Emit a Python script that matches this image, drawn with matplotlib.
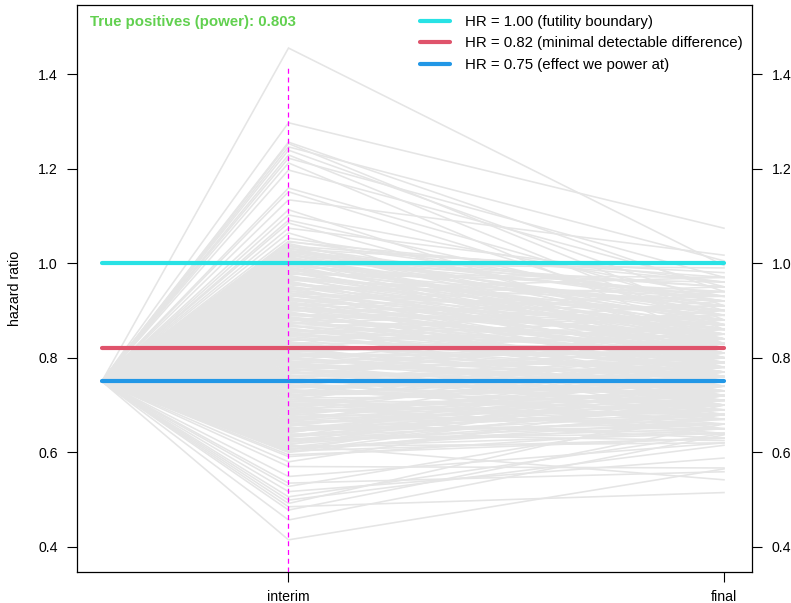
#!/usr/bin/env python
# coding: utf-8

    #========= IMPORTS ===================================================#

import matplotlib
matplotlib.use("Agg")
import matplotlib.pyplot as plt

    #========= DATA ======================================================#

START_HR = 0.75
INFO_FRACTIONS = [0.0, 0.3, 1.0]
TICK_LABELS = ["interim", "final"]

# hazard ratio at interim and at final analysis, one entry per simulated trial
INTERIM = [
    1.455, 1.297, 1.256, 1.253, 1.246, 1.239, 1.229, 1.222, 1.212, 1.197,
    1.159, 1.151, 1.134, 1.113, 1.102, 1.091, 1.085, 1.074, 1.064, 1.053,
    0.415, 0.457, 0.478, 0.485, 0.492, 0.499, 0.506, 0.517, 0.528, 0.535,
    0.549, 0.570, 0.591, 0.580, 0.595,
    0.600, 0.603, 0.605, 0.608, 0.611, 0.613, 0.616, 0.618, 0.621, 0.624,
    0.626, 0.629, 0.632, 0.634, 0.637, 0.639, 0.642, 0.645, 0.647, 0.650,
    0.652, 0.655, 0.658, 0.660, 0.663, 0.665, 0.668, 0.671, 0.673, 0.676,
    0.678, 0.681, 0.684, 0.686, 0.689, 0.691, 0.694, 0.697, 0.699, 0.702,
    0.704, 0.707, 0.710, 0.712, 0.715, 0.717, 0.720, 0.723, 0.725, 0.728,
    0.730, 0.733, 0.736, 0.738, 0.741, 0.743, 0.746, 0.749, 0.751, 0.754,
    0.756, 0.759, 0.762, 0.764, 0.767, 0.769, 0.772, 0.775, 0.777, 0.780,
    0.782, 0.785, 0.788, 0.790, 0.793, 0.795, 0.798, 0.801, 0.803, 0.806,
    0.808, 0.811, 0.814, 0.816, 0.819, 0.821, 0.824, 0.827, 0.829, 0.832,
    0.834, 0.837, 0.840, 0.842, 0.845, 0.847, 0.850, 0.853, 0.855, 0.858,
    0.860, 0.863, 0.866, 0.868, 0.871, 0.873, 0.876, 0.879, 0.881, 0.884,
    0.886, 0.889, 0.892, 0.894, 0.897, 0.899, 0.902, 0.905, 0.907, 0.910,
    0.912, 0.915, 0.918, 0.920, 0.923, 0.925, 0.928, 0.931, 0.933, 0.936,
    0.938, 0.941, 0.944, 0.946, 0.949, 0.951, 0.954, 0.957, 0.959, 0.962,
    0.964, 0.967, 0.970, 0.972, 0.975, 0.977, 0.980, 0.983, 0.985, 0.988,
    0.990, 0.993, 0.996, 0.998, 1.001, 1.003, 1.006, 1.009, 1.011, 1.014,
    1.016, 1.019, 1.022, 1.024, 1.027, 1.030, 1.032, 1.035, 1.038, 1.045,
    0.6015, 0.6065, 0.6115, 0.6165, 0.6215, 0.6265, 0.6315, 0.6365, 0.6415, 0.6465,
    0.6515, 0.6565, 0.6615, 0.6665, 0.6715, 0.6765, 0.6815, 0.6865, 0.6915, 0.6965,
    0.7015, 0.7065, 0.7115, 0.7165, 0.7215, 0.7265, 0.7315, 0.7365, 0.7415, 0.7465,
    0.7515, 0.7565, 0.7615, 0.7665, 0.7715, 0.7765, 0.7815, 0.7865, 0.7915, 0.7965,
    0.8015, 0.8065, 0.8115, 0.8165, 0.8215, 0.8265, 0.8315, 0.8365, 0.8415, 0.8465,
    0.8515, 0.8565, 0.8615, 0.8665, 0.8715, 0.8765, 0.8815, 0.8865, 0.8915, 0.8965,
    0.9015, 0.9065, 0.9115, 0.9165, 0.9215, 0.9265, 0.9315, 0.9365, 0.9415, 0.9465,
    0.9515, 0.9565, 0.9615, 0.9665, 0.9715, 0.9765, 0.9815, 0.9865, 0.9915, 0.9965,
    1.0015, 1.0065, 1.0115, 1.0165, 1.0215, 1.0265, 1.0315, 1.0365, 1.0415, 1.0465,
]
FINAL = [
    0.995, 1.074, 0.94, 0.88, 1.005, 0.91, 0.86, 0.97, 0.83, 0.95,
    0.90, 0.87, 1.017, 0.82, 0.93, 0.89, 0.84, 0.96, 0.80, 0.92,
    0.565, 0.637, 0.66, 0.515, 0.70, 0.615, 0.64, 0.588, 0.68, 0.559,
    0.62, 0.567, 0.65, 0.72, 0.63,
    0.69, 0.63, 0.74, 0.66, 0.71, 0.62, 0.542, 0.68, 0.76, 0.65,
    0.72, 0.64, 0.79, 0.67, 0.70, 0.625, 0.75, 0.69, 0.66, 0.73,
    0.68, 0.77, 0.64, 0.71, 0.82, 0.67, 0.70, 0.63, 0.74, 0.69,
    0.76, 0.66, 0.72, 0.80, 0.68, 0.73, 0.65, 0.78, 0.71, 0.70,
    0.67, 0.75, 0.83, 0.69, 0.72, 0.64, 0.77, 0.74, 0.81, 0.70,
    0.73, 0.68, 0.76, 0.85, 0.71, 0.66, 0.79, 0.75, 0.72, 0.87,
    0.70, 0.78, 0.74, 0.65, 0.82, 0.76, 0.69, 0.80, 0.73, 0.77,
    0.84, 0.71, 0.75, 0.79, 0.67, 0.88, 0.74, 0.72, 0.81, 0.76,
    0.78, 0.70, 0.83, 0.75, 0.90, 0.73, 0.79, 0.68, 0.77, 0.82,
    0.74, 0.86, 0.80, 0.71, 0.78, 0.92, 0.76, 0.83, 0.72, 0.79,
    0.81, 0.75, 0.89, 0.78, 0.70, 0.84, 0.80, 0.94, 0.77, 0.82,
    0.73, 0.87, 0.79, 0.83, 0.76, 0.91, 0.81, 0.74, 0.85, 0.80,
    0.88, 0.77, 0.82, 0.95, 0.79, 0.84, 0.72, 0.86, 0.81, 0.90,
    0.78, 0.83, 0.97, 0.80, 0.87, 0.75, 0.92, 0.82, 0.85, 0.79,
    0.93, 0.84, 0.81, 0.89, 0.76, 0.96, 0.86, 0.83, 0.91, 0.80,
    0.87, 0.94, 0.82, 0.99, 0.85, 0.90, 0.78, 0.93, 0.88, 0.84,
    0.95, 0.81, 0.89, 0.92, 0.86, 0.98, 0.83, 0.91, 0.87, 0.96,
    0.72, 0.67, 0.64, 0.75, 0.70, 0.66, 0.73, 0.68, 0.77, 0.71,
    0.65, 0.74, 0.69, 0.78, 0.72, 0.66, 0.75, 0.70, 0.81, 0.68,
    0.76, 0.71, 0.67, 0.79, 0.73, 0.84, 0.70, 0.77, 0.74, 0.69,
    0.80, 0.72, 0.78, 0.75, 0.86, 0.71, 0.79, 0.74, 0.82, 0.76,
    0.73, 0.81, 0.77, 0.85, 0.70, 0.80, 0.76, 0.89, 0.78, 0.83,
    0.79, 0.86, 0.75, 0.82, 0.91, 0.77, 0.84, 0.80, 0.88, 0.74,
    0.85, 0.81, 0.93, 0.78, 0.87, 0.83, 0.90, 0.76, 0.86, 0.94,
    0.82, 0.89, 0.79, 0.92, 0.85, 0.97, 0.81, 0.88, 0.84, 0.91,
    0.86, 0.95, 0.83, 0.90, 0.80, 0.93, 0.88, 0.97, 0.85, 0.92,
]

REFERENCE_HR = [1.00, 0.82, 0.75]
REFERENCE_LABELS = ["HR = 1.00 (futility boundary)",
                    "HR = 0.82 (minimal detectable difference)",
                    "HR = 0.75 (effect we power at)"]
REFERENCE_COLORS = ["#28E2E5", "#DF536B", "#2297E6"]
POWER = 0.803

    #========= FIGURE ====================================================#

plt.rcParams["font.family"] = ["Liberation Sans", "DejaVu Sans"]
plt.rcParams["font.size"] = 10.2

fig = plt.figure(figsize=(7.91, 6.03), dpi=100)
ax = fig.add_axes([0.0973, 0.0514, 0.8534, 0.9403])

for i, f in zip(INTERIM, FINAL):
    ax.plot(INFO_FRACTIONS, [START_HR, i, f], color="#E5E5E5", lw=1.15,
            solid_joinstyle="miter", zorder=1)

for hr, label, color in zip(REFERENCE_HR, REFERENCE_LABELS, REFERENCE_COLORS):
    ax.plot([INFO_FRACTIONS[0], INFO_FRACTIONS[-1]], [hr, hr], color=color,
            lw=3, solid_capstyle="round", label=label, zorder=3)

ax.plot([INFO_FRACTIONS[1], INFO_FRACTIONS[1]], [0.347, 1.413], color="#FF00FF",
        lw=0.9, dashes=(4, 3), zorder=4)

ax.set_xlim(-0.04, 1.045)
ax.set_ylim(0.347, 1.546)
ax.set_xticks(INFO_FRACTIONS[1:])
ax.set_xticklabels(TICK_LABELS)
ax.set_yticks([0.4, 0.6, 0.8, 1.0, 1.2, 1.4])
ax.tick_params(axis="y", which="both", left=True, right=True,
               labelleft=True, labelright=True, length=7, pad=7)
ax.tick_params(axis="x", length=7, pad=6)
for side in ax.spines.values():
    side.set_linewidth(0.9)
ax.set_ylabel("hazard ratio", labelpad=11)

ax.text(0.019, 0.982, "True positives (power): %.3f" % POWER, transform=ax.transAxes,
        color="#61D04F", fontweight="bold", fontsize=10.8, ha="left", va="top")

ax.legend(loc="upper right", bbox_to_anchor=(1.0, 1.0), frameon=False,
          fontsize=10.8, handlelength=2.0, handletextpad=1.0, labelspacing=0.5,
          borderaxespad=0.25)

plt.savefig("out.png", dpi=100)
